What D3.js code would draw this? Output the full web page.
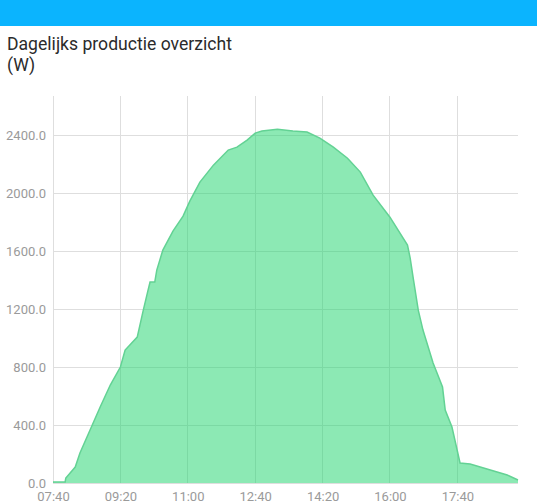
<!DOCTYPE html>
<html><head><meta charset="utf-8">
<script src="https://cdn.jsdelivr.net/npm/d3@7"></script>
<style>
html,body{margin:0;padding:0;background:#fff;}
svg{display:block;}
</style></head>
<body>
<svg id="chart" width="537" height="504"></svg>
<script>
const times = ["07:40","07:58","07:59","08:13","08:20","08:35","08:50","09:05","09:20","09:27","09:34","09:45","09:54","10:00","10:04","10:11","10:14","10:23","10:38","10:53","11:03","11:18","11:38","12:00","12:13","12:28","12:40","12:50","13:13","13:36","13:57","14:16","14:36","14:57","15:16","15:35","16:00","16:26","16:30","16:35","16:42","16:49","17:04","17:18","17:22","17:32","17:44","17:59","18:29","18:54","19:10"];
const watts = [7,7,34,110,207,366,524,676,800,917,952,1007,1193,1310,1386,1386,1469,1607,1738,1841,1945,2076,2193,2297,2317,2366,2414,2428,2441,2428,2421,2379,2317,2241,2145,1986,1834,1641,1552,1400,1193,1055,828,662,503,386,138,131,90,55,21];
const xTickLabels = ["07:40","09:20","11:00","12:40","14:20","16:00","17:40"];
const yTickValues = [0,400,800,1200,1600,2000,2400];
const title = "Dagelijks productie overzicht";
const unit = "(W)";

(function(){
const parse = d3.timeParse("%H:%M");
const data = times.map((t,i)=>({t:parse(t), v:watts[i]}));

const svg = d3.select("#chart");
const W = 537, H = 504;
const mLeft = 53, mRight = 518, mTop = 96, mBottom = 483;

svg.append("rect").attr("x",0).attr("y",0).attr("width",W).attr("height",26).attr("fill","#0bb4fe");

svg.append("text").attr("x",7).attr("y",50).text(title)
  .attr("font-family","Roboto").attr("font-size",17.6).attr("fill","#2b2b2b");
svg.append("text").attr("x",7).attr("y",71).text(unit)
  .attr("font-family","Roboto").attr("font-size",17.6).attr("fill","#2b2b2b");

const x = d3.scaleTime().domain([parse("07:40"), parse("19:10")]).range([mLeft,mRight]);
const y = d3.scaleLinear().domain([0,2670]).range([mBottom,mTop]);

const g = svg.append("g");
g.append("g").selectAll("line").data(xTickLabels.map(parse)).join("line")
  .attr("x1",d=>x(d)).attr("x2",d=>x(d)).attr("y1",mTop).attr("y2",mBottom)
  .attr("stroke","#dedede").attr("stroke-width",1).attr("shape-rendering","crispEdges");
g.append("g").selectAll("line").data(yTickValues).join("line")
  .attr("x1",mLeft).attr("x2",mRight).attr("y1",d=>y(d)).attr("y2",d=>y(d))
  .attr("stroke","#dedede").attr("stroke-width",1).attr("shape-rendering","crispEdges");

const area = d3.area().x(d=>x(d.t)).y0(y(0)).y1(d=>y(d.v)).curve(d3.curveLinear);
const line = d3.line().x(d=>x(d.t)).y(d=>y(d.v)).curve(d3.curveLinear);
svg.append("path").datum(data).attr("d",area).attr("fill","rgb(26,212,106)").attr("fill-opacity",0.5);
svg.append("path").datum(data).attr("d",line).attr("fill","none").attr("stroke","#63d294").attr("stroke-width",1.5);

const yAxis = d3.axisLeft(y).tickValues(yTickValues).tickFormat(d3.format(".1f")).tickSize(0).tickPadding(7);
const ya = svg.append("g").attr("transform",`translate(${mLeft},0)`).call(yAxis);
ya.select(".domain").remove();
ya.selectAll("text").attr("font-family","Roboto").attr("font-size",13).attr("fill","#9a9a9a");

const xAxis = d3.axisBottom(x).tickValues(xTickLabels.map(parse)).tickFormat(d3.timeFormat("%H:%M")).tickSize(0).tickPadding(9);
const xa = svg.append("g").attr("transform",`translate(0,${mBottom})`).call(xAxis);
xa.select(".domain").remove();
xa.selectAll("text").attr("font-family","Roboto").attr("font-size",13).attr("fill","#9a9a9a");
})();
</script>
</body></html>
